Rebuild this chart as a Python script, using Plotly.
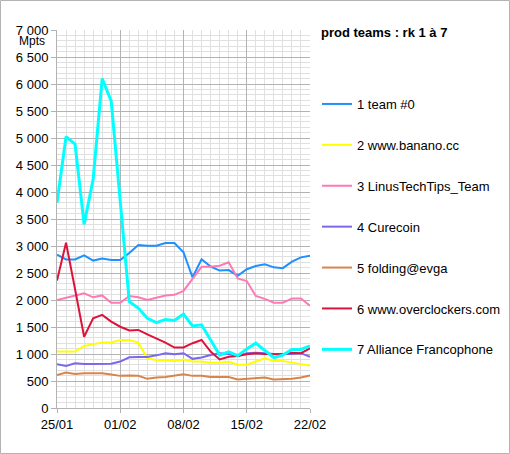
import pandas as pd
import plotly.graph_objects as go

# =====================
# data (Mpts per day)
# =====================
dates = pd.date_range("2021-01-25", "2021-02-22", freq="D")

team_names = [
    "1 team #0",
    "2 www.banano.cc",
    "3 LinusTechTips_Team",
    "4 Curecoin",
    "5 folding@evga",
    "6 www.overclockers.com",
    "7 Alliance Francophone",
]

team0 = [2840, 2750, 2750, 2825, 2730, 2770, 2740, 2740, 2870, 3020, 3005, 3005, 3055, 3055, 2885,
         2420, 2755, 2620, 2545, 2555, 2450, 2570, 2630, 2660, 2605, 2590, 2710, 2790, 2820]
banano = [1045, 1045, 1045, 1150, 1180, 1215, 1215, 1260, 1260, 1210, 920, 890, 890, 865, 900,
          860, 860, 840, 840, 855, 800, 800, 860, 920, 870, 870, 840, 810, 785]
ltt = [2000, 2045, 2085, 2125, 2050, 2085, 1950, 1950, 2075, 2050, 2000, 2045, 2085, 2095, 2170,
       2390, 2615, 2615, 2635, 2700, 2400, 2350, 2075, 2020, 1950, 1950, 2030, 2030, 1895]
curecoin = [810, 780, 830, 815, 815, 815, 820, 860, 940, 945, 945, 975, 1015, 995, 1015,
            910, 935, 980, 1015, 1000, 965, 1015, 1025, 1015, 1000, 1000, 1000, 1015, 950]
evga = [610, 655, 630, 645, 645, 645, 620, 595, 600, 595, 540, 565, 575, 595, 625,
        595, 595, 575, 570, 575, 530, 540, 555, 565, 530, 530, 540, 565, 600]
overclockers = [2360, 3060, 2200, 1320, 1660, 1725, 1600, 1505, 1435, 1445, 1365, 1290, 1210, 1120, 1120,
                1200, 1260, 1045, 900, 950, 965, 995, 1015, 1000, 995, 995, 1025, 1015, 1105]
alliance = [3800, 5025, 4885, 3400, 4235, 6100, 5685, 3850, 1970, 1850, 1660, 1580, 1640, 1620, 1740,
            1520, 1540, 1260, 980, 1040, 970, 1095, 1200, 1065, 935, 980, 1085, 1085, 1150]

series = [team0, banano, ltt, curecoin, evga, overclockers, alliance]
colors = ["#1e90ff", "#ffff00", "#ff79b4", "#7b68ee", "#d8854a", "#dc143c", "#00ffff"]
widths = [2, 2, 2, 2, 2, 2, 3]

# =====================
# layout constants
# =====================
W, H = 510, 454
ML, MR, MT, MB = 57, 200, 30, 46
PW = W - ML - MR
PH = H - MT - MB
MAJOR = "#b3b3b3"
MINOR = "#e0e0e0"
FONT = "Liberation Sans, Arial, sans-serif"

fig = go.Figure()

for i, (name, ys) in enumerate(zip(team_names, series)):
    fig.add_scatter(
        x=dates,
        y=ys,
        mode="lines",
        name=name,
        legendgroup=str(i),
        line=dict(color=colors[i], width=widths[i]),
    )

fig.update_xaxes(
    type="date",
    range=[dates[0], dates[-1]],
    tick0=dates[0],
    dtick=7 * 86400000,
    tickformat="%d/%m",
    ticks="outside",
    ticklen=4,
    tickcolor=MAJOR,
    showgrid=True,
    gridcolor=MAJOR,
    gridwidth=1,
    showline=True,
    linecolor=MAJOR,
    zeroline=False,
    automargin=False,
    minor=dict(dtick=86400000, showgrid=True, gridcolor=MINOR, ticks=""),
    tickfont=dict(size=13, color="#000000"),
)

fig.update_yaxes(
    range=[0, 7000],
    dtick=500,
    tickformat=",d",
    ticks="outside",
    ticklen=5,
    tickcolor=MAJOR,
    showgrid=True,
    gridcolor=MAJOR,
    showline=True,
    linecolor=MAJOR,
    zeroline=False,
    automargin=False,
    minor=dict(dtick=100, showgrid=True, gridcolor=MINOR, ticks=""),
    tickfont=dict(size=13, color="#000000"),
)

# unit label + legend heading
fig.add_annotation(
    text="Mpts", xref="paper", yref="paper",
    x=(47 - ML) / PW, y=(H - MB - 41) / PH,
    xanchor="right", yanchor="middle", showarrow=False,
    font=dict(size=12, color="#000000"),
)
fig.add_annotation(
    text="<b>prod teams : rk 1 à 7</b>", xref="paper", yref="paper",
    x=(319 - ML) / PW, y=(H - MB - 32) / PH,
    xanchor="left", yanchor="middle", showarrow=False,
    font=dict(size=13, color="#000000"),
)

# outer frame
fig.add_shape(
    type="rect", xref="paper", yref="paper",
    x0=(0.5 - ML) / PW, x1=(W - 0.5 - ML) / PW,
    y0=(H - MB - (H - 0.5)) / PH, y1=(H - MB - 0.5) / PH,
    line=dict(color=MAJOR, width=1), layer="above",
)

fig.update_layout(
    width=W,
    height=H,
    margin=dict(l=ML, r=MR, t=MT, b=MB, pad=0, autoexpand=False),
    paper_bgcolor="white",
    plot_bgcolor="white",
    separators=", ",
    font=dict(family=FONT, size=13, color="#000000"),
    showlegend=True,
    legend=dict(
        x=(317 - ML) / PW,
        y=(H - MB - 89) / PH,
        xanchor="left",
        yanchor="top",
        tracegroupgap=21,
        traceorder="grouped",
        font=dict(size=13, color="#000000"),
        bgcolor="rgba(0,0,0,0)",
    ),
    hovermode=False,
)

# page body has a default 8px margin; drop it so the figure sits at 0,0
fig.write_html(
    "out.html",
    config={"displayModeBar": False},
    post_script="document.body.style.margin = '0';",
)
